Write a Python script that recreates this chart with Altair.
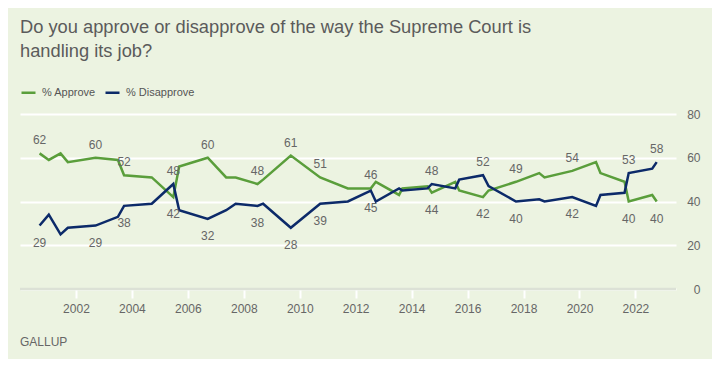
import altair as alt
import pandas as pd

# ---- data ----
dates = [2000.70, 2001.03, 2001.45, 2001.71, 2002.70, 2003.50, 2003.72, 2004.71,
         2005.48, 2005.69, 2006.71, 2007.37, 2007.71, 2008.49, 2008.69, 2009.68,
         2010.73, 2011.72, 2012.54, 2012.72, 2013.55, 2013.67, 2014.57, 2014.72,
         2015.56, 2015.70, 2016.55, 2016.75, 2017.73, 2018.56, 2018.75, 2019.74,
         2020.59, 2020.75, 2021.61, 2021.76, 2022.60, 2022.76]
approve = [62, 59, 62, 58, 60, 59, 52, 51,
           42, 56, 60, 51, 51, 48, 50, 61,
           51, 46, 46, 49, 43, 46, 47, 44,
           49, 45, 42, 45, 49, 53, 51, 54,
           58, 53, 49, 40, 43, 40]
disapprove = [29, 34, 25, 28, 29, 33, 38, 39,
              48, 36, 32, 36, 39, 38, 39, 28,
              39, 40, 45, 40, 46, 45, 46, 48,
              46, 50, 52, 47, 40, 41, 40, 42,
              38, 43, 44, 53, 55, 58]
label_dates = [2000.70, 2002.70, 2003.72, 2005.48, 2006.71, 2008.49, 2009.68,
               2010.73, 2012.54, 2014.72, 2016.55, 2017.73, 2019.74, 2021.76, 2022.76]
series_names = ["% Approve", "% Disapprove"]
year_ticks = [2002, 2004, 2006, 2008, 2010, 2012, 2014, 2016, 2018, 2020, 2022]
y_ticks = [0, 20, 40, 60, 80]
title_lines = ["Do you approve or disapprove of the way the Supreme Court is",
               "handling its job?"]
source_text = "GALLUP"

GREEN = "#5a9e3b"
NAVY = "#0c2a69"
BG = "#ecf3e1"
TEXT = "#666666"
FONT = "Liberation Sans"

df = pd.DataFrame({"date": dates, series_names[0]: approve, series_names[1]: disapprove})
long = df.melt("date", var_name="series", value_name="value")

rows = []
for _, r in df[df["date"].isin(label_dates)].iterrows():
    a, d = r[series_names[0]], r[series_names[1]]
    rows.append({"date": r["date"], "value": a, "series": series_names[0],
                 "pos": "above" if a >= d else "below"})
    rows.append({"date": r["date"], "value": d, "series": series_names[1],
                 "pos": "above" if d > a else "below"})
labels = pd.DataFrame(rows)

xscale = alt.Scale(domain=[2000, 2023.45], nice=False, zero=False)
yscale = alt.Scale(domain=[0, 80], nice=False)

x_axis = alt.Axis(values=year_ticks, format="d", title=None, grid=False, domain=False,
                  ticks=True, tickColor="white", tickWidth=2, tickSize=9,
                  labelPadding=5, labelFontSize=12, labelColor=TEXT, labelFont=FONT)
y_axis = alt.Axis(orient="right", values=y_ticks, title=None, domain=False, ticks=False,
                  grid=True, gridColor="white", gridWidth=2, labelAlign="right",
                  labelPadding=24, labelFontSize=12, labelColor=TEXT, labelFont=FONT,
                  labelBaseline="middle")

zero_rule = alt.Chart(pd.DataFrame({"v": [0]})).mark_rule(
    color="#dce1d6", strokeWidth=2.5
).encode(y=alt.Y("v:Q", scale=yscale, axis=y_axis))

lines = alt.Chart(long).mark_line(strokeWidth=2.5).encode(
    x=alt.X("date:Q", scale=xscale, axis=x_axis),
    y=alt.Y("value:Q", scale=yscale, axis=y_axis),
    color=alt.Color("series:N",
                    scale=alt.Scale(domain=series_names, range=[GREEN, NAVY]),
                    legend=alt.Legend(title=None, orient="none", legendX=0, legendY=-30,
                                      direction="horizontal", symbolType="stroke",
                                      symbolSize=196, symbolStrokeWidth=2.5,
                                      labelFontSize=11, labelColor="#555555",
                                      labelFont=FONT, labelOffset=5,
                                      columnPadding=4, padding=0)),
)

lab_above = alt.Chart(labels).transform_filter(alt.datum.pos == "above").mark_text(
    dy=-9, baseline="alphabetic", fontSize=12, color=TEXT, font=FONT
).encode(x=alt.X("date:Q", scale=xscale), y=alt.Y("value:Q", scale=yscale),
         text=alt.Text("value:Q", format="d"))
lab_below = alt.Chart(labels).transform_filter(alt.datum.pos == "below").mark_text(
    dy=21, baseline="alphabetic", fontSize=12, color=TEXT, font=FONT
).encode(x=alt.X("date:Q", scale=xscale), y=alt.Y("value:Q", scale=yscale),
         text=alt.Text("value:Q", format="d"))

one = pd.DataFrame({"k": [0]})
title = alt.Chart(one).mark_text(
    text=title_lines, align="left", baseline="alphabetic", fontSize=18.3, lineHeight=24,
    color="#5b5b5b", font=FONT
).encode(x=alt.value(0), y=alt.value(-81))
source = alt.Chart(one).mark_text(
    text=source_text, align="left", baseline="alphabetic", fontSize=12,
    color=TEXT, font=FONT
).encode(x=alt.value(0), y=alt.value(232))

chart = alt.layer(zero_rule, lines, lab_above, lab_below, title, source).properties(
    width=656, height=175,
    autosize=alt.AutoSizeParams(type="none"),
    padding={"left": 12, "top": 106, "right": 36, "bottom": 70},
).configure(background=BG, font=FONT).configure_view(stroke=None)

chart.save("out.html", embed_options={"renderer": "svg", "actions": False})
